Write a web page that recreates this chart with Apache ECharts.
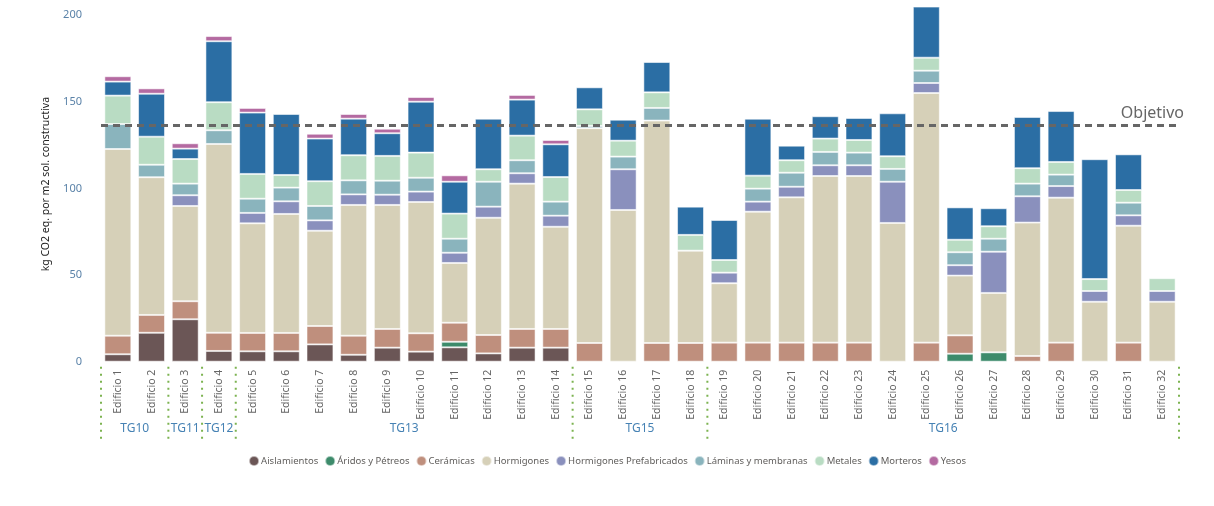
<!DOCTYPE html>
<html>
<head>
<meta charset="utf-8">
<script src="https://cdn.jsdelivr.net/npm/echarts@6/dist/echarts.min.js"></script>
<style>
html,body{margin:0;padding:0;background:#fff;}
#chart{width:1214px;height:506px;}
</style>
</head>
<body>
<div id="chart"></div>
<script>
var categories = ['Edificio 1','Edificio 2','Edificio 3','Edificio 4','Edificio 5','Edificio 6','Edificio 7','Edificio 8','Edificio 9','Edificio 10','Edificio 11','Edificio 12','Edificio 13','Edificio 14','Edificio 15','Edificio 16','Edificio 17','Edificio 18','Edificio 19','Edificio 20','Edificio 21','Edificio 22','Edificio 23','Edificio 24','Edificio 25','Edificio 26','Edificio 27','Edificio 28','Edificio 29','Edificio 30','Edificio 31','Edificio 32'];

var aislamientos = [4.3,16.7,24.5,6.2,6.0,6.0,10.0,4.0,8.1,5.8,8.3,4.8,8.1,8.1,0,0,0,0,0,0,0,0,0,0,0,0,0,0,0,0,0,0];
var aridos       = [0,0,0,0,0,0,0,0,0,0,3.2,0,0,0,0,0,0,0,0,0,0,0,0,0,0,4.6,5.4,0,0,0,0,0];
var ceramicas    = [10.7,10.3,10.4,10.5,10.6,10.6,10.6,11.0,10.8,10.6,11.0,10.6,10.8,10.8,10.8,0,10.8,10.8,11.0,11.0,11.0,11.0,11.0,0,11.0,10.6,0,3.3,11.0,0,11.0,0];
var hormigones   = [107.8,79.5,55.0,109.0,63.3,68.7,55.0,75.5,71.6,75.8,34.5,67.7,83.9,59.0,124.0,87.6,128.4,53.3,34.3,75.6,83.9,96.2,96.2,80.1,144.1,34.5,34.3,77.0,83.7,34.6,67.5,34.6];
var prefabricados= [0,0,6.2,0,6.0,7.3,6.0,6.1,5.9,6.0,5.9,6.4,6.0,6.4,0,23.5,0,0,6.1,5.8,6.1,6.2,6.2,23.8,5.8,6.0,23.8,15.2,6.7,6.2,6.0,6.2];
var laminas      = [14.4,7.2,6.7,7.9,8.2,7.9,8.3,8.1,8.1,8.0,8.1,14.4,7.5,8.1,1.3,7.3,7.3,0,0,7.5,8.1,7.7,7.3,7.4,7.1,7.5,7.5,7.3,6.6,0,7.3,0];
var metales      = [16.4,16.2,14.2,16.2,14.3,7.3,14.3,14.5,14.3,14.5,14.5,7.2,14.2,14.2,9.6,9.2,9.0,9.1,7.3,7.5,7.2,7.7,7.3,7.3,7.5,7.2,7.2,8.9,7.3,6.9,7.3,7.4];
var morteros     = [8.1,24.8,6.0,35.2,35.4,35.2,24.6,21.1,13.1,29.4,18.4,29.2,20.8,18.9,12.7,12.1,17.5,16.3,23.1,32.9,8.4,12.9,12.7,24.8,29.5,18.7,10.4,29.6,29.4,69.2,20.6,0];
var yesos        = [3.1,3.1,3.1,3.0,2.7,0,2.8,2.7,2.6,2.7,3.7,0,2.7,2.5,0,0,0,0,0,0,0,0,0,0,0,0,0,0,0,0,0,0];

var seriesNames = ['Aislamientos','Áridos y Pétreos','Cerámicas','Hormigones','Hormigones Prefabricados','Láminas y membranas','Metales','Morteros','Yesos'];
var seriesColors = ['#6b5656','#3d8b6b','#bf8f7d','#d6d0b8','#8a90bd','#8ab4bd','#b9dcc3','#2b6ea4','#b46aa1'];
var seriesValues = [aislamientos, aridos, ceramicas, hormigones, prefabricados, laminas, metales, morteros, yesos];

var groupNames = ['TG10','TG11','TG12','TG13','TG15','TG16'];
var groupStart = [0,2,3,4,14,18];
var groupEnd   = [1,2,3,13,17,31];

var objetivo = 136.5;
var yTicks = { min: 0, max: 205, interval: 50 };

var FONT = "'Segoe UI','Noto Sans','Liberation Sans',sans-serif";

var chart = echarts.init(document.getElementById('chart'), null, {renderer:'canvas'});

var series = seriesNames.map(function(name, i){
  var s = {
    name: name,
    type: 'bar',
    stack: 'total',
    barCategoryGap: '20%',
    data: seriesValues[i].map(function(v){ return v ? v : '-'; }),
    itemStyle: { color: seriesColors[i], borderColor: 'rgba(255,255,255,0.55)', borderWidth: 1 },
    emphasis: { disabled: true }
  };
  if (i === seriesNames.length - 1) {
    s.markLine = {
      silent: true,
      symbol: ['none','none'],
      lineStyle: { color: '#666666', type: [7,5], width: 3 },
      label: { show: true, position: 'insideEndTop', formatter: 'Objetivo', color: '#666666', fontSize: 16, fontFamily: FONT, distance: [-5, 4] },
      data: [{ yAxis: objetivo }]
    };
  }
  return s;
});

series.push({
  type: 'custom',
  name: 'groups',
  silent: true,
  clip: false,
  z: 10,
  data: groupStart.map(function(s, i){ return [s, groupEnd[i]]; }),
  encode: { x: [0,1] },
  renderItem: function(params, api){
    var i = params.dataIndex;
    var s = api.value(0), e = api.value(1);
    var p0 = api.coord([s, 0]);
    var p1 = api.coord([e, 0]);
    var bw = api.size([1, 0])[0];
    var left = p0[0] - bw/2;
    var right = p1[0] + bw/2;
    var y = p0[1];
    var lineStyle = { stroke: '#7cb350', lineWidth: 2, lineDash: [2, 5] };
    var children = [
      { type: 'line', shape: { x1: left, y1: y + 5, x2: left, y2: y + 80 }, style: lineStyle },
      { type: 'text', x: (left + right)/2, y: y + 67,
        style: { text: groupNames[i], fill: '#4682b4', font: '12px ' + FONT, align: 'center', verticalAlign: 'middle' } }
    ];
    if (i === groupNames.length - 1) {
      children.push({ type: 'line', shape: { x1: right, y1: y + 5, x2: right, y2: y + 80 }, style: lineStyle });
    }
    return { type: 'group', children: children };
  }
});

chart.setOption({
  animation: false,
  textStyle: { fontFamily: FONT },
  grid: { left: 101, right: 35, top: 6.6, bottom: 144.3, containLabel: false },
  legend: {
    data: seriesNames,
    bottom: 34,
    left: 'center',
    icon: 'circle',
    itemWidth: 10,
    itemHeight: 10,
    itemGap: 6,
    textStyle: { color: '#605e5c', fontSize: 9.5, fontFamily: FONT, padding: [0,0,0,-3] }
  },
  xAxis: {
    type: 'category',
    data: categories,
    axisLine: { show: false },
    axisTick: { show: false },
    axisLabel: { rotate: 90, color: '#666666', fontSize: 10.5, margin: 8, fontFamily: FONT }
  },
  yAxis: {
    type: 'value',
    min: yTicks.min,
    max: yTicks.max,
    interval: yTicks.interval,
    name: 'kg CO2 eq. por m2 sol. constructiva',
    nameLocation: 'middle',
    nameGap: 49,
    nameTextStyle: { color: '#222222', fontSize: 10.5, fontFamily: FONT },
    splitLine: { show: false },
    axisLine: { show: false },
    axisTick: { show: false },
    axisLabel: { color: '#5a82a8', fontSize: 11, margin: 19, showMaxLabel: false, fontFamily: FONT }
  },
  series: series
});
</script>
</body>
</html>
